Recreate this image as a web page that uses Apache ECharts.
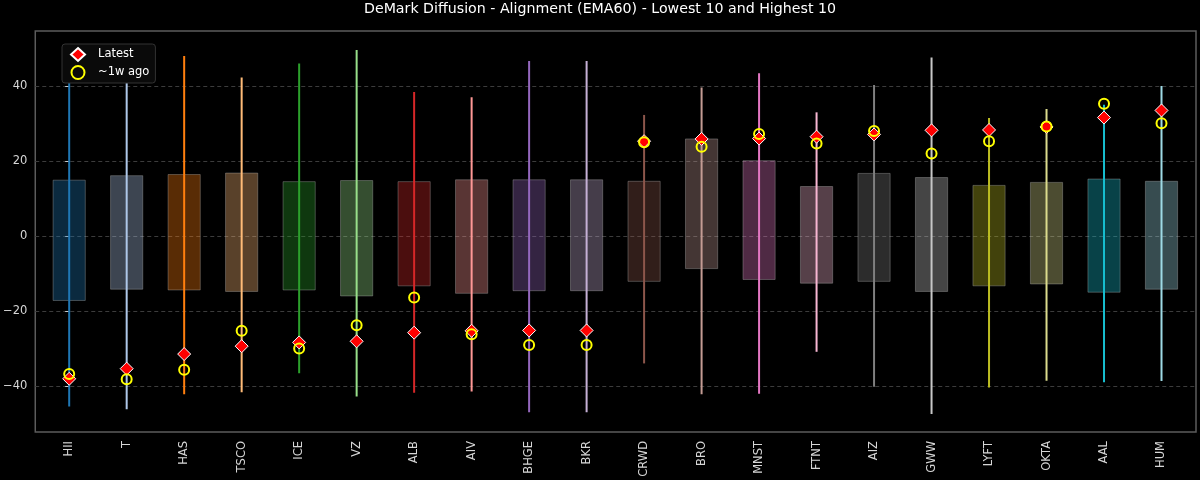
<!DOCTYPE html>
<html>
<head>
<meta charset="utf-8">
<script src="https://cdn.jsdelivr.net/npm/echarts@6/dist/echarts.min.js"></script>
<style>
  html, body { margin: 0; padding: 0; background: #000; }
  #chart { width: 1200px; height: 480px; }
</style>
</head>
<body>
<div id="chart"></div>
<script>
// categories: 10 lowest + 10 highest
var categories = ['HII', 'T', 'HAS', 'TSCO', 'ICE', 'VZ', 'ALB', 'AIV', 'BHGE', 'BKR',
	'CRWD', 'BRO', 'MNST', 'FTNT', 'AIZ', 'GWW', 'LYFT', 'OKTA', 'AAL', 'HUM'];

// range of the diffusion reading (whisker)
var lowVals  = [-45.5, -46.2, -42.2, -41.7, -36.6, -42.8, -41.8, -41.5, -47.0, -47.0,
	-34.0, -42.2, -42.1, -30.9, -40.2, -47.5, -40.4, -38.6, -39.0, -38.7];
var highVals = [46.0, 42.3, 48.0, 42.3, 46.0, 49.6, 38.4, 37.0, 46.7, 46.7,
	32.3, 39.6, 43.4, 33.0, 40.3, 47.6, 31.5, 33.9, 35.0, 40.0];

// box (lower / upper quartile)
var q1Vals = [-17.2, -14.2, -14.4, -14.8, -14.4, -16.0, -13.3, -15.3, -14.6, -14.6,
	-12.1, -8.7, -11.6, -12.6, -12.1, -14.8, -13.3, -12.8, -15.0, -14.2];
var q3Vals = [14.9, 16.1, 16.4, 16.8, 14.5, 14.8, 14.5, 15.0, 15.0, 15.0,
	14.6, 25.9, 20.1, 13.2, 16.7, 15.6, 13.5, 14.3, 15.2, 14.6];

var latestVals = [-38.1, -35.4, -31.5, -29.4, -28.4, -28.1, -25.8, -25.3, -25.2, -25.2,
	25.3, 25.9, 26.0, 26.5, 27.1, 28.2, 28.3, 29.1, 31.6, 33.5];
var weekAgoVals = [-36.8, -38.2, -35.7, -25.3, -30.0, -23.8, -16.4, -26.2, -29.1, -29.1,
	25.0, 23.8, 27.2, 24.7, 28.0, 22.0, 25.3, 29.2, 35.3, 30.1];

var yTicks = [-40, -20, 0, 20, 40];

// tab20
var colors = ['#1f77b4', '#aec7e8', '#ff7f0e', '#ffbb78', '#2ca02c', '#98df8a', '#d62728', '#ff9896',
	'#9467bd', '#c5b0d5', '#8c564b', '#c49c94', '#e377c2', '#f7b6d2', '#7f7f7f', '#c7c7c7',
	'#bcbd22', '#dbdb8d', '#17becf', '#9edae5'];

function rgba(hex, a) {
	var n = parseInt(hex.slice(1), 16);
	return 'rgba(' + (n >> 16) + ',' + ((n >> 8) & 255) + ',' + (n & 255) + ',' + a + ')';
}

var rangeData = [], latestData = [], weekData = [], xIdx = [];
for (var i = 0; i < categories.length; i++) {
	rangeData.push([i, lowVals[i], q1Vals[i], q3Vals[i], highVals[i]]);
	latestData.push([i, latestVals[i]]);
	weekData.push([i, weekAgoVals[i]]);
	xIdx.push(i);
}

var font = 'DejaVu Sans';
var myChart = echarts.init(document.getElementById('chart'));

var option = {
	backgroundColor: '#000',
	animation: false,
	title: {
		text: 'DeMark Diffusion - Alignment (EMA60) - Lowest 10 and Highest 10',
		left: 'center',
		top: 2,
		padding: 0,
		textStyle: { color: '#fff', fontSize: 14.2, fontWeight: 'normal', fontFamily: font }
	},
	grid: {
		left: 33, right: 4, top: 31, bottom: 48,
		show: true, borderColor: '#5c5c5c', borderWidth: 1.5, backgroundColor: 'transparent'
	},
	legend: {
		orient: 'vertical',
		left: 62, top: 44,
		padding: [3, 6, 3, 8],
		itemGap: 3,
		itemWidth: 14, itemHeight: 13,
		backgroundColor: '#0a0a0a',
		borderColor: '#333',
		borderWidth: 1,
		borderRadius: 3,
		textStyle: { color: '#fff', fontSize: 11.5, fontFamily: font, padding: [0, 0, 0, 8] },
		data: ['Latest', '~1w ago']
	},
	xAxis: {
		type: 'value',
		min: -0.59, max: 19.6,
		splitLine: { show: false },
		axisLine: { show: false },
		axisTick: { show: true, length: 4, customValues: xIdx, lineStyle: { color: '#ccc' } },
		axisLabel: {
			customValues: xIdx,
			rotate: 90,
			margin: 9,
			color: '#d6d6d6',
			fontSize: 11.5,
			fontFamily: font,
			formatter: function (v) { return categories[v]; }
		}
	},
	yAxis: {
		type: 'value',
		min: -52.3, max: 54.7,
		axisLine: { show: false },
		axisTick: { show: true, length: 4, customValues: yTicks, lineStyle: { color: '#ccc' } },
		axisLabel: {
			customValues: yTicks,
			margin: 8,
			color: '#d6d6d6',
			fontSize: 11.5,
			fontFamily: font,
			formatter: function (v) { return v < 0 ? '\u2212' + Math.abs(v) : String(v); }
		},
		splitLine: { show: true, lineStyle: { color: '#3c3c3c', type: [4, 3], width: 1 } }
	},
	series: [{
		name: 'range',
		type: 'custom',
		z: 2,
		data: rangeData,
		renderItem: function (params, api) {
			var x = api.value(0);
			var lo = api.coord([x, api.value(1)]);
			var q1 = api.coord([x, api.value(2)]);
			var q3 = api.coord([x, api.value(3)]);
			var hi = api.coord([x, api.value(4)]);
			var w = api.size([0.56, 0])[0];
			var c = colors[params.dataIndex];
			return {
				type: 'group',
				children: [{
					type: 'rect',
					shape: { x: q1[0] - w / 2, y: q3[1], width: w, height: q1[1] - q3[1] },
					style: { fill: rgba(c, 0.35), stroke: 'rgba(200,200,200,0.32)', lineWidth: 1 }
				}, {
					type: 'line',
					shape: { x1: lo[0], y1: lo[1], x2: hi[0], y2: hi[1] },
					style: { stroke: c, lineWidth: 2 }
				}]
			};
		}
	}, {
		name: 'Latest',
		type: 'scatter',
		z: 3,
		symbol: 'diamond',
		symbolSize: 13,
		itemStyle: { color: '#ff0000', borderColor: '#fff', borderWidth: 1, opacity: 1 },
		data: latestData
	}, {
		name: '~1w ago',
		type: 'scatter',
		z: 4,
		symbol: 'circle',
		symbolSize: 10,
		itemStyle: { color: 'rgba(0,0,0,0)', borderColor: '#ffff00', borderWidth: 2, opacity: 1 },
		data: weekData
	}]
};
myChart.setOption(option);
</script>
</body>
</html>
